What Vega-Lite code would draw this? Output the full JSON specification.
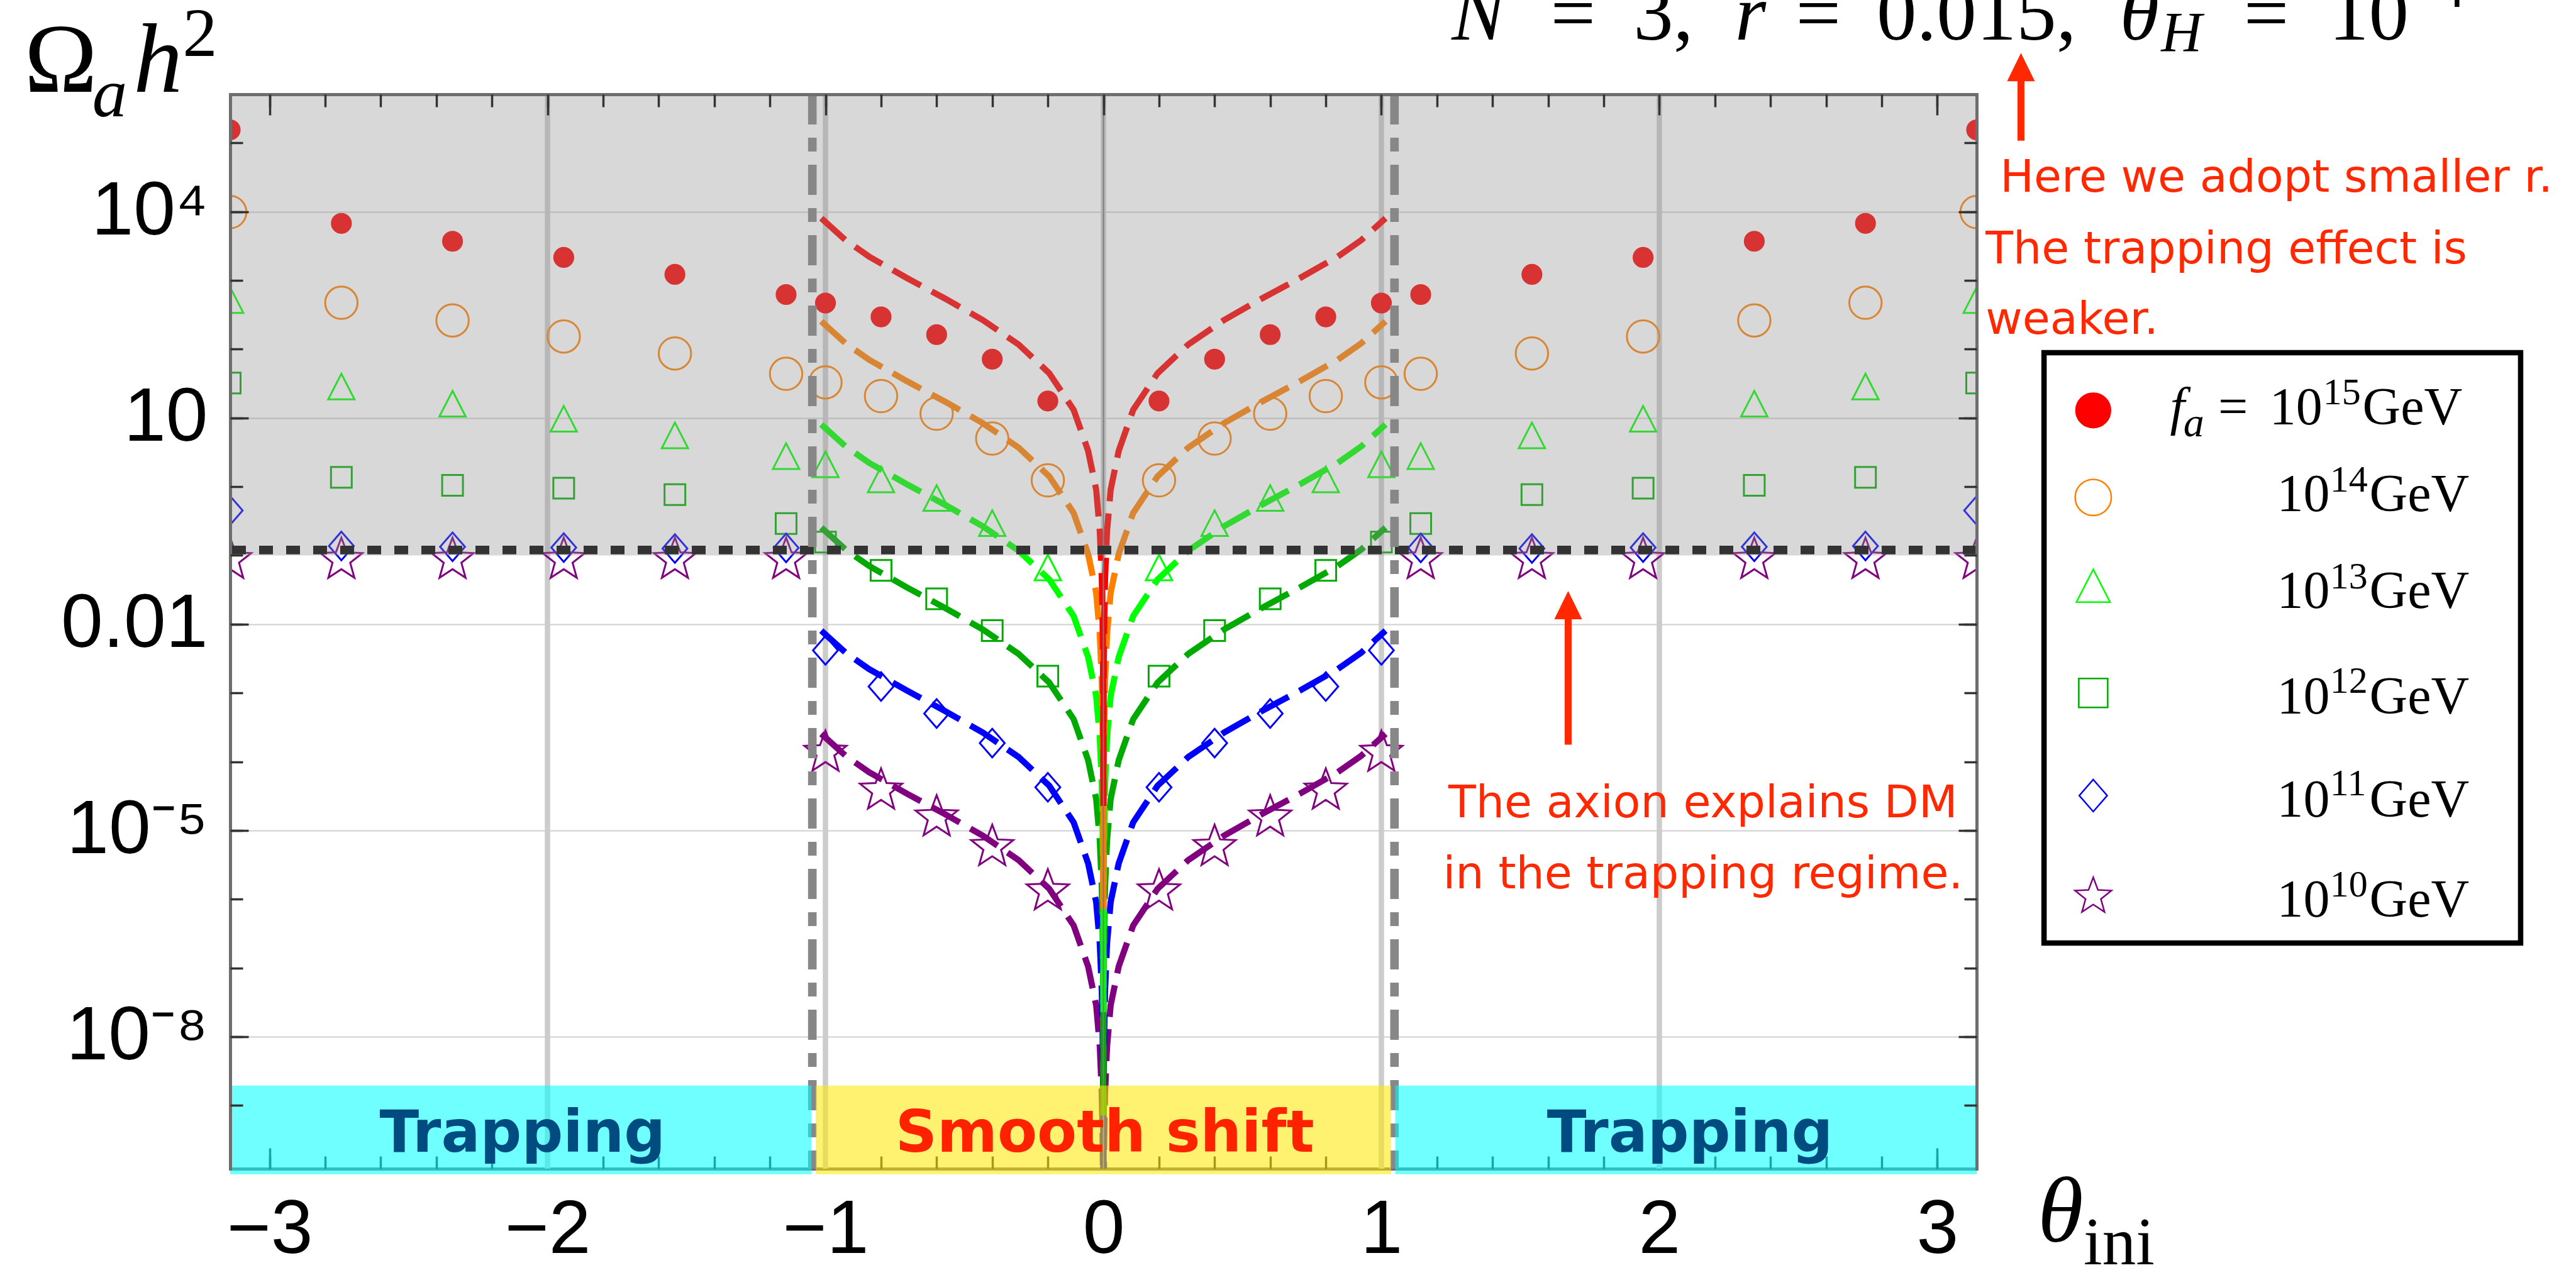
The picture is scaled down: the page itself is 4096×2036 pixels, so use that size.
{
"$schema": "https://vega.github.io/schema/vega-lite/v6.json",
"width": 2777, "height": 1709,
"autosize": {"type": "none"},
"padding": {"left": 366, "top": 150, "right": 953, "bottom": 177},
"background": "#ffffff",
"config": {
  "view": {"stroke": null},
  "axis": {"grid": false, "labels": false, "domain": false, "ticks": true, "tickColor": "#333333", "tickWidth": 3.5, "domainColor": "#6e6e6e", "domainWidth": 5, "domainCap": "square", "labelFont": "Liberation Sans", "labelFontSize": 120, "labelColor": "#000000", "labelOverlap": false, "labelFlush": false, "labelBound": false, "labelLimit": 2000}
},
"datasets": {
"pts": [
{"th":-3.14159,"om":154900,"fa":"15"},{"th":-2.74159,"om":6761,"fa":"15"},{"th":-2.34159,"om":3715,"fa":"15"},{"th":-1.94159,"om":2163,"fa":"15"},{"th":-1.54159,"om":1225,"fa":"15"},{"th":-1.14159,"om":623.7,"fa":"15"},
{"th":-1,"om":468.8,"fa":"15"},{"th":-0.8,"om":295.1,"fa":"15"},{"th":-0.6,"om":162.9,"fa":"15"},{"th":-0.4,"om":71.61,"fa":"15"},{"th":-0.2,"om":17.62,"fa":"15"},
{"th":0.2,"om":17.62,"fa":"15"},{"th":0.4,"om":71.61,"fa":"15"},{"th":0.6,"om":162.9,"fa":"15"},{"th":0.8,"om":295.1,"fa":"15"},{"th":1,"om":468.8,"fa":"15"},
{"th":1.14159,"om":623.7,"fa":"15"},{"th":1.54159,"om":1225,"fa":"15"},{"th":1.94159,"om":2163,"fa":"15"},{"th":2.34159,"om":3715,"fa":"15"},{"th":2.74159,"om":6761,"fa":"15"},{"th":3.14159,"om":154900,"fa":"15"},

{"th":-3.14159,"om":9886,"fa":"14"},{"th":-2.74159,"om":473.2,"fa":"14"},{"th":-2.34159,"om":261.8,"fa":"14"},{"th":-1.94159,"om":153.1,"fa":"14"},{"th":-1.54159,"om":86.7,"fa":"14"},{"th":-1.14159,"om":43.85,"fa":"14"},
{"th":-1,"om":32.96,"fa":"14"},{"th":-0.8,"om":20.8,"fa":"14"},{"th":-0.6,"om":11.53,"fa":"14"},{"th":-0.4,"om":5.012,"fa":"14"},{"th":-0.2,"om":1.236,"fa":"14"},
{"th":0.2,"om":1.236,"fa":"14"},{"th":0.4,"om":5.012,"fa":"14"},{"th":0.6,"om":11.53,"fa":"14"},{"th":0.8,"om":20.8,"fa":"14"},{"th":1,"om":32.96,"fa":"14"},
{"th":1.14159,"om":43.85,"fa":"14"},{"th":1.54159,"om":86.7,"fa":"14"},{"th":1.94159,"om":153.1,"fa":"14"},{"th":2.34159,"om":261.8,"fa":"14"},{"th":2.74159,"om":473.2,"fa":"14"},{"th":3.14159,"om":9886,"fa":"14"},

{"th":-3.14159,"om":512.9,"fa":"13"},{"th":-2.74159,"om":28.31,"fa":"13"},{"th":-2.34159,"om":15.92,"fa":"13"},{"th":-1.94159,"om":9.594,"fa":"13"},{"th":-1.54159,"om":5.508,"fa":"13"},{"th":-1.14159,"om":2.754,"fa":"13"},
{"th":-1,"om":2.089,"fa":"13"},{"th":-0.8,"om":1.259,"fa":"13"},{"th":-0.6,"om":0.6761,"fa":"13"},{"th":-0.4,"om":0.2917,"fa":"13"},{"th":-0.2,"om":0.06607,"fa":"13"},
{"th":0.2,"om":0.06607,"fa":"13"},{"th":0.4,"om":0.2917,"fa":"13"},{"th":0.6,"om":0.6761,"fa":"13"},{"th":0.8,"om":1.259,"fa":"13"},{"th":1,"om":2.089,"fa":"13"},
{"th":1.14159,"om":2.754,"fa":"13"},{"th":1.54159,"om":5.508,"fa":"13"},{"th":1.94159,"om":9.594,"fa":"13"},{"th":2.34159,"om":15.92,"fa":"13"},{"th":2.74159,"om":28.31,"fa":"13"},{"th":3.14159,"om":512.9,"fa":"13"},

{"th":-3.14159,"om":32.28,"fa":"12"},{"th":-2.74159,"om":1.371,"fa":"12"},{"th":-2.34159,"om":1.047,"fa":"12"},{"th":-1.94159,"om":0.9506,"fa":"12"},{"th":-1.54159,"om":0.7656,"fa":"12"},{"th":-1.14159,"om":0.2911,"fa":"12"},
{"th":-1,"om":0.1567,"fa":"12"},{"th":-0.8,"om":0.06053,"fa":"12"},{"th":-0.6,"om":0.02339,"fa":"12"},{"th":-0.4,"om":0.008091,"fa":"12"},{"th":-0.2,"om":0.00175,"fa":"12"},
{"th":0.2,"om":0.00175,"fa":"12"},{"th":0.4,"om":0.008091,"fa":"12"},{"th":0.6,"om":0.02339,"fa":"12"},{"th":0.8,"om":0.06053,"fa":"12"},{"th":1,"om":0.1567,"fa":"12"},
{"th":1.14159,"om":0.2911,"fa":"12"},{"th":1.54159,"om":0.7656,"fa":"12"},{"th":1.94159,"om":0.9506,"fa":"12"},{"th":2.34159,"om":1.047,"fa":"12"},{"th":2.74159,"om":1.371,"fa":"12"},{"th":3.14159,"om":32.28,"fa":"12"},

{"th":-3.14159,"om":0.4498,"fa":"11"},{"th":-2.74159,"om":0.1374,"fa":"11"},{"th":-2.34159,"om":0.1334,"fa":"11"},{"th":-1.94159,"om":0.1303,"fa":"11"},{"th":-1.54159,"om":0.1259,"fa":"11"},{"th":-1.14159,"om":0.1288,"fa":"11"},
{"th":-1,"om":0.004169,"fa":"11"},{"th":-0.8,"om":0.001239,"fa":"11"},{"th":-0.6,"om":0.0005023,"fa":"11"},{"th":-0.4,"om":0.0001862,"fa":"11"},{"th":-0.2,"om":0.00004246,"fa":"11"},
{"th":0.2,"om":0.00004246,"fa":"11"},{"th":0.4,"om":0.0001862,"fa":"11"},{"th":0.6,"om":0.0005023,"fa":"11"},{"th":0.8,"om":0.001239,"fa":"11"},{"th":1,"om":0.004169,"fa":"11"},
{"th":1.14159,"om":0.1288,"fa":"11"},{"th":1.54159,"om":0.1259,"fa":"11"},{"th":1.94159,"om":0.1303,"fa":"11"},{"th":2.34159,"om":0.1334,"fa":"11"},{"th":2.74159,"om":0.1374,"fa":"11"},{"th":3.14159,"om":0.4498,"fa":"11"},

{"th":-3.14159,"om":0.0861,"fa":"10"},{"th":-2.74159,"om":0.0861,"fa":"10"},{"th":-2.34159,"om":0.0861,"fa":"10"},{"th":-1.94159,"om":0.0861,"fa":"10"},{"th":-1.54159,"om":0.0861,"fa":"10"},{"th":-1.14159,"om":0.0861,"fa":"10"},
{"th":-1,"om":0.0001349,"fa":"10"},{"th":-0.8,"om":0.00003802,"fa":"10"},{"th":-0.6,"om":0.00001549,"fa":"10"},{"th":-0.4,"om":0.000005754,"fa":"10"},{"th":-0.2,"om":0.000001303,"fa":"10"},
{"th":0.2,"om":0.000001303,"fa":"10"},{"th":0.4,"om":0.000005754,"fa":"10"},{"th":0.6,"om":0.00001549,"fa":"10"},{"th":0.8,"om":0.00003802,"fa":"10"},{"th":1,"om":0.0001349,"fa":"10"},
{"th":1.14159,"om":0.0861,"fa":"10"},{"th":1.54159,"om":0.0861,"fa":"10"},{"th":1.94159,"om":0.0861,"fa":"10"},{"th":2.34159,"om":0.0861,"fa":"10"},{"th":2.74159,"om":0.0861,"fa":"10"},{"th":3.14159,"om":0.0861,"fa":"10"}
],
"crv": [
{"th":-1.015,"om":2.541e-4,"fa":"10"},{"th":-0.927,"om":1.213e-4,"fa":"10"},{"th":-0.843,"om":7.03e-5,"fa":"10"},{"th":-0.7065,"om":3.418e-5,"fa":"10"},{"th":-0.57,"om":1.726e-5,"fa":"10"},{"th":-0.434,"om":8.396e-6,"fa":"10"},{"th":-0.305,"om":3.697e-6,"fa":"10"},{"th":-0.195,"om":1.416e-6,"fa":"10"},{"th":-0.107,"om":4.139e-7,"fa":"10"},{"th":-0.055,"om":1.05e-7,"fa":"10"},{"th":-0.026,"om":2.858e-8,"fa":"10"},{"th":-0.013,"om":7.079e-9,"fa":"10"},{"th":-0.006,"om":1.514e-9,"fa":"10"},{"th":-0.003,"om":3.802e-10,"fa":"10"},{"th":-0.0015,"om":9.55e-11,"fa":"10"},{"th":-0.0006,"om":1.514e-11,"fa":"10"},{"th":-0.00025,"om":2.63e-12,"fa":"10"},{"th":-0.00013,"om":7.943e-13,"fa":"10"},
{"th":0.00013,"om":7.943e-13,"fa":"10"},{"th":0.00025,"om":2.63e-12,"fa":"10"},{"th":0.0006,"om":1.514e-11,"fa":"10"},{"th":0.0015,"om":9.55e-11,"fa":"10"},{"th":0.003,"om":3.802e-10,"fa":"10"},{"th":0.006,"om":1.514e-9,"fa":"10"},{"th":0.013,"om":7.079e-9,"fa":"10"},{"th":0.026,"om":2.858e-8,"fa":"10"},{"th":0.055,"om":1.05e-7,"fa":"10"},{"th":0.107,"om":4.139e-7,"fa":"10"},{"th":0.195,"om":1.416e-6,"fa":"10"},{"th":0.305,"om":3.697e-6,"fa":"10"},{"th":0.434,"om":8.396e-6,"fa":"10"},{"th":0.57,"om":1.726e-5,"fa":"10"},{"th":0.7065,"om":3.418e-5,"fa":"10"},{"th":0.843,"om":7.03e-5,"fa":"10"},{"th":0.927,"om":1.213e-4,"fa":"10"},{"th":1.015,"om":2.541e-4,"fa":"10"},

{"th":-1.015,"om":8.035e-3,"fa":"11"},{"th":-0.927,"om":3.837e-3,"fa":"11"},{"th":-0.843,"om":2.223e-3,"fa":"11"},{"th":-0.7065,"om":1.081e-3,"fa":"11"},{"th":-0.57,"om":5.458e-4,"fa":"11"},{"th":-0.434,"om":2.655e-4,"fa":"11"},{"th":-0.305,"om":1.169e-4,"fa":"11"},{"th":-0.195,"om":4.477e-5,"fa":"11"},{"th":-0.107,"om":1.309e-5,"fa":"11"},{"th":-0.055,"om":3.319e-6,"fa":"11"},{"th":-0.026,"om":9.036e-7,"fa":"11"},{"th":-0.013,"om":2.239e-7,"fa":"11"},{"th":-0.006,"om":4.786e-8,"fa":"11"},{"th":-0.003,"om":1.202e-8,"fa":"11"},{"th":-0.0015,"om":3.02e-9,"fa":"11"},{"th":-0.0006,"om":4.786e-10,"fa":"11"},{"th":-0.00025,"om":8.318e-11,"fa":"11"},{"th":-0.00013,"om":2.512e-11,"fa":"11"},
{"th":0.00013,"om":2.512e-11,"fa":"11"},{"th":0.00025,"om":8.318e-11,"fa":"11"},{"th":0.0006,"om":4.786e-10,"fa":"11"},{"th":0.0015,"om":3.02e-9,"fa":"11"},{"th":0.003,"om":1.202e-8,"fa":"11"},{"th":0.006,"om":4.786e-8,"fa":"11"},{"th":0.013,"om":2.239e-7,"fa":"11"},{"th":0.026,"om":9.036e-7,"fa":"11"},{"th":0.055,"om":3.319e-6,"fa":"11"},{"th":0.107,"om":1.309e-5,"fa":"11"},{"th":0.195,"om":4.477e-5,"fa":"11"},{"th":0.305,"om":1.169e-4,"fa":"11"},{"th":0.434,"om":2.655e-4,"fa":"11"},{"th":0.57,"om":5.458e-4,"fa":"11"},{"th":0.7065,"om":1.081e-3,"fa":"11"},{"th":0.843,"om":2.223e-3,"fa":"11"},{"th":0.927,"om":3.837e-3,"fa":"11"},{"th":1.015,"om":8.035e-3,"fa":"11"},

{"th":-1.015,"om":0.2541,"fa":"12"},{"th":-0.927,"om":0.1213,"fa":"12"},{"th":-0.843,"om":0.0703,"fa":"12"},{"th":-0.7065,"om":0.03418,"fa":"12"},{"th":-0.57,"om":0.01726,"fa":"12"},{"th":-0.434,"om":0.008396,"fa":"12"},{"th":-0.305,"om":0.003697,"fa":"12"},{"th":-0.195,"om":0.001416,"fa":"12"},{"th":-0.107,"om":4.139e-4,"fa":"12"},{"th":-0.055,"om":1.05e-4,"fa":"12"},{"th":-0.026,"om":2.858e-5,"fa":"12"},{"th":-0.013,"om":7.079e-6,"fa":"12"},{"th":-0.006,"om":1.514e-6,"fa":"12"},{"th":-0.003,"om":3.802e-7,"fa":"12"},{"th":-0.0015,"om":9.55e-8,"fa":"12"},{"th":-0.0006,"om":1.514e-8,"fa":"12"},{"th":-0.00025,"om":2.63e-9,"fa":"12"},{"th":-0.00013,"om":7.943e-10,"fa":"12"},
{"th":0.00013,"om":7.943e-10,"fa":"12"},{"th":0.00025,"om":2.63e-9,"fa":"12"},{"th":0.0006,"om":1.514e-8,"fa":"12"},{"th":0.0015,"om":9.55e-8,"fa":"12"},{"th":0.003,"om":3.802e-7,"fa":"12"},{"th":0.006,"om":1.514e-6,"fa":"12"},{"th":0.013,"om":7.079e-6,"fa":"12"},{"th":0.026,"om":2.858e-5,"fa":"12"},{"th":0.055,"om":1.05e-4,"fa":"12"},{"th":0.107,"om":4.139e-4,"fa":"12"},{"th":0.195,"om":0.001416,"fa":"12"},{"th":0.305,"om":0.003697,"fa":"12"},{"th":0.434,"om":0.008396,"fa":"12"},{"th":0.57,"om":0.01726,"fa":"12"},{"th":0.7065,"om":0.03418,"fa":"12"},{"th":0.843,"om":0.0703,"fa":"12"},{"th":0.927,"om":0.1213,"fa":"12"},{"th":1.015,"om":0.2541,"fa":"12"},

{"th":-1.015,"om":8.035,"fa":"13"},{"th":-0.927,"om":3.837,"fa":"13"},{"th":-0.843,"om":2.223,"fa":"13"},{"th":-0.7065,"om":1.081,"fa":"13"},{"th":-0.57,"om":0.5458,"fa":"13"},{"th":-0.434,"om":0.2655,"fa":"13"},{"th":-0.305,"om":0.1169,"fa":"13"},{"th":-0.195,"om":0.04477,"fa":"13"},{"th":-0.107,"om":0.01309,"fa":"13"},{"th":-0.055,"om":0.003319,"fa":"13"},{"th":-0.026,"om":9.036e-4,"fa":"13"},{"th":-0.013,"om":2.239e-4,"fa":"13"},{"th":-0.006,"om":4.786e-5,"fa":"13"},{"th":-0.003,"om":1.202e-5,"fa":"13"},{"th":-0.0015,"om":3.02e-6,"fa":"13"},{"th":-0.0006,"om":4.786e-7,"fa":"13"},{"th":-0.00025,"om":8.318e-8,"fa":"13"},{"th":-0.00013,"om":2.512e-8,"fa":"13"},
{"th":0.00013,"om":2.512e-8,"fa":"13"},{"th":0.00025,"om":8.318e-8,"fa":"13"},{"th":0.0006,"om":4.786e-7,"fa":"13"},{"th":0.0015,"om":3.02e-6,"fa":"13"},{"th":0.003,"om":1.202e-5,"fa":"13"},{"th":0.006,"om":4.786e-5,"fa":"13"},{"th":0.013,"om":2.239e-4,"fa":"13"},{"th":0.026,"om":9.036e-4,"fa":"13"},{"th":0.055,"om":0.003319,"fa":"13"},{"th":0.107,"om":0.01309,"fa":"13"},{"th":0.195,"om":0.04477,"fa":"13"},{"th":0.305,"om":0.1169,"fa":"13"},{"th":0.434,"om":0.2655,"fa":"13"},{"th":0.57,"om":0.5458,"fa":"13"},{"th":0.7065,"om":1.081,"fa":"13"},{"th":0.843,"om":2.223,"fa":"13"},{"th":0.927,"om":3.837,"fa":"13"},{"th":1.015,"om":8.035,"fa":"13"},

{"th":-1.015,"om":254.1,"fa":"14"},{"th":-0.927,"om":121.3,"fa":"14"},{"th":-0.843,"om":70.3,"fa":"14"},{"th":-0.7065,"om":34.18,"fa":"14"},{"th":-0.57,"om":17.26,"fa":"14"},{"th":-0.434,"om":8.396,"fa":"14"},{"th":-0.305,"om":3.697,"fa":"14"},{"th":-0.195,"om":1.416,"fa":"14"},{"th":-0.107,"om":0.4139,"fa":"14"},{"th":-0.055,"om":0.105,"fa":"14"},{"th":-0.026,"om":0.02858,"fa":"14"},{"th":-0.013,"om":0.007079,"fa":"14"},{"th":-0.006,"om":0.001514,"fa":"14"},{"th":-0.003,"om":3.802e-4,"fa":"14"},{"th":-0.0015,"om":9.55e-5,"fa":"14"},{"th":-0.0006,"om":1.514e-5,"fa":"14"},{"th":-0.00025,"om":2.63e-6,"fa":"14"},{"th":-0.00013,"om":7.943e-7,"fa":"14"},
{"th":0.00013,"om":7.943e-7,"fa":"14"},{"th":0.00025,"om":2.63e-6,"fa":"14"},{"th":0.0006,"om":1.514e-5,"fa":"14"},{"th":0.0015,"om":9.55e-5,"fa":"14"},{"th":0.003,"om":3.802e-4,"fa":"14"},{"th":0.006,"om":0.001514,"fa":"14"},{"th":0.013,"om":0.007079,"fa":"14"},{"th":0.026,"om":0.02858,"fa":"14"},{"th":0.055,"om":0.105,"fa":"14"},{"th":0.107,"om":0.4139,"fa":"14"},{"th":0.195,"om":1.416,"fa":"14"},{"th":0.305,"om":3.697,"fa":"14"},{"th":0.434,"om":8.396,"fa":"14"},{"th":0.57,"om":17.26,"fa":"14"},{"th":0.7065,"om":34.18,"fa":"14"},{"th":0.843,"om":70.3,"fa":"14"},{"th":0.927,"om":121.3,"fa":"14"},{"th":1.015,"om":254.1,"fa":"14"},

{"th":-1.015,"om":8035,"fa":"15"},{"th":-0.927,"om":3837,"fa":"15"},{"th":-0.843,"om":2223,"fa":"15"},{"th":-0.7065,"om":1081,"fa":"15"},{"th":-0.57,"om":545.8,"fa":"15"},{"th":-0.434,"om":265.5,"fa":"15"},{"th":-0.305,"om":116.9,"fa":"15"},{"th":-0.195,"om":44.77,"fa":"15"},{"th":-0.107,"om":13.09,"fa":"15"},{"th":-0.055,"om":3.319,"fa":"15"},{"th":-0.026,"om":0.9036,"fa":"15"},{"th":-0.013,"om":0.2239,"fa":"15"},{"th":-0.006,"om":0.04786,"fa":"15"},{"th":-0.003,"om":0.01202,"fa":"15"},{"th":-0.0015,"om":0.00302,"fa":"15"},{"th":-0.0006,"om":4.786e-4,"fa":"15"},{"th":-0.00025,"om":8.318e-5,"fa":"15"},{"th":-0.00013,"om":2.512e-5,"fa":"15"},
{"th":0.00013,"om":2.512e-5,"fa":"15"},{"th":0.00025,"om":8.318e-5,"fa":"15"},{"th":0.0006,"om":4.786e-4,"fa":"15"},{"th":0.0015,"om":0.00302,"fa":"15"},{"th":0.003,"om":0.01202,"fa":"15"},{"th":0.006,"om":0.04786,"fa":"15"},{"th":0.013,"om":0.2239,"fa":"15"},{"th":0.026,"om":0.9036,"fa":"15"},{"th":0.055,"om":3.319,"fa":"15"},{"th":0.107,"om":13.09,"fa":"15"},{"th":0.195,"om":44.77,"fa":"15"},{"th":0.305,"om":116.9,"fa":"15"},{"th":0.434,"om":265.5,"fa":"15"},{"th":0.57,"om":545.8,"fa":"15"},{"th":0.7065,"om":1081,"fa":"15"},{"th":0.843,"om":2223,"fa":"15"},{"th":0.927,"om":3837,"fa":"15"},{"th":1.015,"om":8035,"fa":"15"}
]
},
"resolve": {"axis": {"x": "independent", "y": "independent"}, "scale": {"size": "independent"}},
"layer": [
{"data": {"values": [{"th":-2},{"th":-1},{"th":0},{"th":1},{"th":2}]},
 "mark": {"type": "rule", "color": "#cccccc", "strokeWidth": 8.5},
 "encoding": {"x": {"field": "th", "type": "quantitative", "scale": {"domain": [-3.14159265, 3.14159265], "nice": false, "zero": false}, "axis": null}}},

{"data": {"name": "crv"},
 "mark": {"type": "line", "clip": true, "strokeWidth": 9.8, "strokeDash": [51, 19.5], "strokeCap": "butt"},
 "encoding": {
  "x": {"field": "th", "type": "quantitative", "scale": {"domain": [-3.14159265, 3.14159265], "nice": false, "zero": false},
        "axis": {"orient": "bottom", "values": [-3,-2,-1,0,1,2,3], "labels": true, "ticks": false, "domain": true, "labelPadding": 38, "title": null, "zindex": 0}},
  "y": {"field": "om", "type": "quantitative", "scale": {"type": "log", "domain": [1.2e-10, 510000], "nice": false},
        "axis": {"orient": "left", "values": [1e-8, 1e-5, 0.01, 10, 10000], "labels": true, "ticks": false, "grid": true, "gridColor": "#d0d0d0", "gridWidth": 2, "labelPadding": 36, "labelLimit": 2000, "title": null, "zindex": 0,
                 "labelExpr": "datum.value > 1000 ? '10\u2074' : datum.value > 1 ? '10' : datum.value > 0.001 ? '0.01' : datum.value > 1e-6 ? '10\u207b\u2075' : '10\u207b\u2078'"}},
  "stroke": {"field": "fa", "type": "nominal", "scale": {"domain": ["15","14","13","12","11","10"], "range": ["#ff0000","#ff8000","#00ff00","#00aa00","#0000ff","#800080"]}, "legend": null}
 }},

{"data": {"name": "pts"},
 "mark": {"type": "point", "clip": true, "strokeWidth": 3, "opacity": 1, "fillOpacity": 1, "strokeOpacity": 1},
 "encoding": {
  "x": {"field": "th", "type": "quantitative", "scale": {"domain": [-3.14159265, 3.14159265], "nice": false, "zero": false},
        "axis": {"orient": "bottom", "values": [-3,-2,-1,0,1,2,3], "tickSize": -33, "title": null, "zindex": 0}},
  "y": {"field": "om", "type": "quantitative", "scale": {"type": "log", "domain": [1.2e-10, 510000], "nice": false},
        "axis": {"orient": "left", "values": [1e-8, 1e-5, 0.01, 10, 10000], "tickSize": -29, "domain": true, "title": null, "zindex": 1}},
  "shape": {"field": "fa", "type": "nominal", "scale": {"domain": ["15","14","13","12","11","10"], "range": ["circle","circle","M0,-1L1,0.95L-1,0.95Z","square","M0,-1L0.87,0L0,1L-0.87,0Z","M0,-1L0.247,-0.34L0.951,-0.309L0.399,0.13L0.588,0.809L0,0.42L-0.588,0.809L-0.399,0.13L-0.951,-0.309L-0.247,-0.34Z"]}, "legend": null},
  "stroke": {"field": "fa", "type": "nominal", "scale": {"domain": ["15","14","13","12","11","10"], "range": ["#ff0000","#ff8000","#00ff00","#00aa00","#0000ff","#800080"]}, "legend": null},
  "fill": {"field": "fa", "type": "nominal", "scale": {"domain": ["15","14","13","12","11","10"], "range": ["#ff0000","transparent","transparent","transparent","transparent","transparent"]}, "legend": null},
  "size": {"field": "fa", "type": "nominal", "scale": {"type": "ordinal", "domain": ["15","14","13","12","11","10"], "range": [912, 2650, 1750, 1089, 2070, 4970]}, "legend": null}
 }},

{"data": {"values": [{"th":0}]},
 "mark": {"type": "rule", "color": "#7a7a7a", "strokeWidth": 2.2},
 "encoding": {"x": {"field": "th", "type": "quantitative", "scale": {"domain": [-3.14159265, 3.14159265], "nice": false, "zero": false}, "axis": null}}},

{"data": {"values": [{"a": -3.14159265, "b": 3.14159265, "lo": 0.1, "hi": 510000}]},
 "mark": {"type": "rect", "color": "#909090", "opacity": 0.353},
 "encoding": {
  "x": {"field": "a", "type": "quantitative", "scale": {"domain": [-3.14159265, 3.14159265], "nice": false, "zero": false},
        "axis": {"orient": "bottom", "values": [-3,-2.8,-2.6,-2.4,-2.2,-2,-1.8,-1.6,-1.4,-1.2,-1,-0.8,-0.6,-0.4,-0.2,0,0.2,0.4,0.6,0.8,1,1.2,1.4,1.6,1.8,2,2.2,2.4,2.6,2.8,3], "tickSize": -20, "title": null, "zindex": 0}},
  "x2": {"field": "b"},
  "y": {"field": "lo", "type": "quantitative", "scale": {"type": "log", "domain": [1.2e-10, 510000], "nice": false},
        "axis": {"orient": "left", "values": [1e-9,1e-8,1e-7,1e-6,1e-5,1e-4,0.001,0.01,0.1,1,10,100,1000,10000,100000], "tickSize": -20, "title": null, "zindex": 1}},
  "y2": {"field": "hi"}
 }},

{"data": {"values": [{"om": 0.12}]},
 "mark": {"type": "rule", "color": "#333333", "strokeWidth": 13.6, "strokeDash": [22, 21], "strokeCap": "butt"},
 "encoding": {"y": {"field": "om", "type": "quantitative", "scale": {"type": "log", "domain": [1.2e-10, 510000], "nice": false}, "axis": null}}},

{"data": {"values": [{"th": -1.0472}, {"th": 1.0472}]},
 "mark": {"type": "rule", "color": "#878787", "strokeWidth": 13.6, "strokeDash": [48, 21, 22, 21], "strokeCap": "butt"},
 "encoding": {"x": {"field": "th", "type": "quantitative", "scale": {"domain": [-3.14159265, 3.14159265], "nice": false, "zero": false}, "axis": null}}},

{"data": {"values": [{"a": -3.14159265, "b": -1.05, "lo": 1e-10, "hi": 1.94e-9, "k": "trap"}, {"a": -1.035, "b": 1.035, "lo": 1e-10, "hi": 1.94e-9, "k": "smooth"}, {"a": 1.05, "b": 3.14159265, "lo": 1e-10, "hi": 1.94e-9, "k": "trap"}]},
 "mark": {"type": "rect", "opacity": 0.56},
 "encoding": {
  "x": {"field": "a", "type": "quantitative", "scale": {"domain": [-3.14159265, 3.14159265], "nice": false, "zero": false},
        "axis": {"orient": "top", "values": [-3,-2,-1,0,1,2,3], "tickSize": -33, "domain": true, "title": null, "zindex": 1}},
  "x2": {"field": "b"},
  "y": {"field": "lo", "type": "quantitative", "scale": {"type": "log", "domain": [1.2e-10, 510000], "nice": false},
        "axis": {"orient": "right", "values": [1e-8, 1e-5, 0.01, 10, 10000], "tickSize": -29, "domain": true, "title": null, "zindex": 1}},
  "y2": {"field": "hi"},
  "color": {"field": "k", "type": "nominal", "scale": {"domain": ["trap", "smooth"], "range": ["#00ffff", "#ffe800"]}, "legend": null}
 }},

{"data": {"values": [{"x": -2.09, "y": 2.123e-10, "t": "Trapping"}, {"x": 2.11, "y": 2.123e-10, "t": "Trapping"}]},
 "mark": {"type": "text", "font": "DejaVu Sans", "fontWeight": "bold", "fontSize": 92, "color": "#004c80", "align": "center", "baseline": "alphabetic"},
 "encoding": {
  "x": {"field": "x", "type": "quantitative", "scale": {"domain": [-3.14159265, 3.14159265], "nice": false, "zero": false},
        "axis": {"orient": "top", "values": [-3,-2.8,-2.6,-2.4,-2.2,-2,-1.8,-1.6,-1.4,-1.2,-1,-0.8,-0.6,-0.4,-0.2,0,0.2,0.4,0.6,0.8,1,1.2,1.4,1.6,1.8,2,2.2,2.4,2.6,2.8,3], "tickSize": -20, "title": null, "zindex": 1}},
  "y": {"field": "y", "type": "quantitative", "scale": {"type": "log", "domain": [1.2e-10, 510000], "nice": false},
        "axis": {"orient": "right", "values": [1e-9,1e-8,1e-7,1e-6,1e-5,1e-4,0.001,0.01,0.1,1,10,100,1000,10000,100000], "tickSize": -20, "title": null, "zindex": 1}},
  "text": {"field": "t"}
 }},

{"data": {"values": [{"x": 0.005, "y": 2.123e-10, "t": "Smooth shift"}]},
 "mark": {"type": "text", "font": "DejaVu Sans", "fontWeight": "bold", "fontSize": 92, "color": "#ff2200", "align": "center", "baseline": "alphabetic"},
 "encoding": {
  "x": {"field": "x", "type": "quantitative", "scale": {"domain": [-3.14159265, 3.14159265], "nice": false, "zero": false}, "axis": null},
  "y": {"field": "y", "type": "quantitative", "scale": {"type": "log", "domain": [1.2e-10, 510000], "nice": false}, "axis": null},
  "text": {"field": "t"}
 }},

{"data": {"values": [{"x": 3.301, "y": 108000, "y2": 1000000}, {"x": 1.672, "y": 0.0001766, "y2": 0.01585}]},
 "mark": {"type": "rule", "color": "#ff2800", "strokeWidth": 11},
 "encoding": {
  "x": {"field": "x", "type": "quantitative", "scale": {"domain": [-3.14159265, 3.14159265], "nice": false, "zero": false}, "axis": null},
  "y": {"field": "y", "type": "quantitative", "scale": {"type": "log", "domain": [1.2e-10, 510000], "nice": false}, "axis": null},
  "y2": {"field": "y2"}
 }},

{"data": {"values": [{"x": 3.301, "y": 1265000}, {"x": 1.672, "y": 0.01892}]},
 "mark": {"type": "point", "filled": true, "color": "#ff2800", "opacity": 1, "shape": "M0,-1L0.98,1L-0.98,1Z", "size": 2025, "strokeWidth": 0},
 "encoding": {
  "x": {"field": "x", "type": "quantitative", "scale": {"domain": [-3.14159265, 3.14159265], "nice": false, "zero": false}, "axis": null},
  "y": {"field": "y", "type": "quantitative", "scale": {"type": "log", "domain": [1.2e-10, 510000], "nice": false}, "axis": null}
 }},

{"data": {"values": [{"x": 3.226, "y": 19364, "t": "Here we adopt smaller r."}, {"x": 3.174, "y": 1762, "t": "The trapping effect is"}, {"x": 3.174, "y": 166.3, "t": "weaker."}]},
 "mark": {"type": "text", "font": "DejaVu Sans", "fontSize": 71.5, "color": "#ff2800", "align": "left", "baseline": "alphabetic"},
 "encoding": {
  "x": {"field": "x", "type": "quantitative", "scale": {"domain": [-3.14159265, 3.14159265], "nice": false, "zero": false}, "axis": null},
  "y": {"field": "y", "type": "quantitative", "scale": {"type": "log", "domain": [1.2e-10, 510000], "nice": false}, "axis": null},
  "text": {"field": "t"}
 }},

{"data": {"values": [{"x": 2.157, "y": 1.545e-5, "t": "The axion explains DM"}, {"x": 2.157, "y": 1.442e-6, "t": "in the trapping regime."}]},
 "mark": {"type": "text", "font": "DejaVu Sans", "fontSize": 71.5, "color": "#ff2800", "align": "center", "baseline": "alphabetic"},
 "encoding": {
  "x": {"field": "x", "type": "quantitative", "scale": {"domain": [-3.14159265, 3.14159265], "nice": false, "zero": false}, "axis": null},
  "y": {"field": "y", "type": "quantitative", "scale": {"type": "log", "domain": [1.2e-10, 510000], "nice": false}, "axis": null},
  "text": {"field": "t"}
 }},

{"data": {"values": [{"a": 3.384, "b": 5.0986, "lo": 2.307e-7, "hi": 88.9}]},
 "mark": {"type": "rect", "fill": "#ffffff", "stroke": "#000000", "strokeWidth": 8.5},
 "encoding": {
  "x": {"field": "a", "type": "quantitative", "scale": {"domain": [-3.14159265, 3.14159265], "nice": false, "zero": false}, "axis": null},
  "x2": {"field": "b"},
  "y": {"field": "lo", "type": "quantitative", "scale": {"type": "log", "domain": [1.2e-10, 510000], "nice": false}, "axis": null},
  "y2": {"field": "hi"}
 }},

{"data": {"values": [{"x": 3.561, "y": 12.853, "fa": "15"}, {"x": 3.561, "y": 0.6966, "fa": "14"}, {"x": 3.561, "y": 0.035727, "fa": "13"}, {"x": 3.561, "y": 0.001, "fa": "12"}, {"x": 3.561, "y": 3.2137e-5, "fa": "11"}, {"x": 3.561, "y": 1.094e-6, "fa": "10"}]},
 "mark": {"type": "point", "strokeWidth": 2.5, "opacity": 1, "fillOpacity": 1, "strokeOpacity": 1},
 "encoding": {
  "x": {"field": "x", "type": "quantitative", "scale": {"domain": [-3.14159265, 3.14159265], "nice": false, "zero": false}, "axis": null},
  "y": {"field": "y", "type": "quantitative", "scale": {"type": "log", "domain": [1.2e-10, 510000], "nice": false}, "axis": null},
  "shape": {"field": "fa", "type": "nominal", "scale": {"domain": ["15","14","13","12","11","10"], "range": ["circle","circle","M0,-1L1,0.95L-1,0.95Z","square","M0,-1L0.87,0L0,1L-0.87,0Z","M0,-1L0.247,-0.34L0.951,-0.309L0.399,0.13L0.588,0.809L0,0.42L-0.588,0.809L-0.399,0.13L-0.951,-0.309L-0.247,-0.34Z"]}, "legend": null},
  "stroke": {"field": "fa", "type": "nominal", "scale": {"domain": ["15","14","13","12","11","10"], "range": ["#ff0000","#ff8000","#00ff00","#00aa00","#0000ff","#800080"]}, "legend": null},
  "fill": {"field": "fa", "type": "nominal", "scale": {"domain": ["15","14","13","12","11","10"], "range": ["#ff0000","transparent","transparent","transparent","transparent","transparent"]}, "legend": null},
  "size": {"field": "fa", "type": "nominal", "scale": {"type": "ordinal", "domain": ["15","14","13","12","11","10"], "range": [3000, 3300, 2860, 2116, 2600, 3720]}, "legend": null}
 }},

{"data": {"values": [{"x": 4.0106, "y": 8.1115, "t": "="}, {"x": 4.1952, "y": 8.1115, "t": "10"}, {"x": 4.5298, "y": 8.1115, "t": "GeV"},
                     {"x": 4.2221, "y": 0.44157, "t": "10"}, {"x": 4.5548, "y": 0.44157, "t": "GeV"},
                     {"x": 4.2221, "y": 0.017218, "t": "10"}, {"x": 4.5548, "y": 0.017218, "t": "GeV"},
                     {"x": 4.2221, "y": 4.9659e-4, "t": "10"}, {"x": 4.5548, "y": 4.9659e-4, "t": "GeV"},
                     {"x": 4.2221, "y": 1.601e-5, "t": "10"}, {"x": 4.5548, "y": 1.601e-5, "t": "GeV"},
                     {"x": 4.2221, "y": 5.5399e-7, "t": "10"}, {"x": 4.5548, "y": 5.5399e-7, "t": "GeV"}]},
 "mark": {"type": "text", "font": "Liberation Serif", "fontSize": 84, "color": "#000000", "align": "left", "baseline": "alphabetic"},
 "encoding": {
  "x": {"field": "x", "type": "quantitative", "scale": {"domain": [-3.14159265, 3.14159265], "nice": false, "zero": false}, "axis": null},
  "y": {"field": "y", "type": "quantitative", "scale": {"type": "log", "domain": [1.2e-10, 510000], "nice": false}, "axis": null},
  "text": {"field": "t"}
 }},

{"data": {"values": [{"x": 4.3875, "y": 15.727, "t": "15"}, {"x": 4.4125, "y": 0.85435, "t": "14"}, {"x": 4.4125, "y": 0.033399, "t": "13"}, {"x": 4.4125, "y": 1.0016e-3, "t": "12"}, {"x": 4.4125, "y": 3.2175e-5, "t": "11"}, {"x": 4.4125, "y": 1.0996e-6, "t": "10"}]},
 "mark": {"type": "text", "font": "Liberation Serif", "fontSize": 60, "color": "#000000", "align": "left", "baseline": "alphabetic"},
 "encoding": {
  "x": {"field": "x", "type": "quantitative", "scale": {"domain": [-3.14159265, 3.14159265], "nice": false, "zero": false}, "axis": null},
  "y": {"field": "y", "type": "quantitative", "scale": {"type": "log", "domain": [1.2e-10, 510000], "nice": false}, "axis": null},
  "text": {"field": "t"}
 }},

{"data": {"values": [{"x": 3.8375, "y": 8.1115, "t": "f"}]},
 "mark": {"type": "text", "font": "Liberation Serif", "fontStyle": "italic", "fontSize": 84, "color": "#000000", "align": "left", "baseline": "alphabetic"},
 "encoding": {
  "x": {"field": "x", "type": "quantitative", "scale": {"domain": [-3.14159265, 3.14159265], "nice": false, "zero": false}, "axis": null},
  "y": {"field": "y", "type": "quantitative", "scale": {"type": "log", "domain": [1.2e-10, 510000], "nice": false}, "axis": null},
  "text": {"field": "t"}
 }},

{"data": {"values": [{"x": 3.8856, "y": 5.433, "t": "a"}]},
 "mark": {"type": "text", "font": "Liberation Serif", "fontStyle": "italic", "fontSize": 66, "color": "#000000", "align": "left", "baseline": "alphabetic"},
 "encoding": {
  "x": {"field": "x", "type": "quantitative", "scale": {"domain": [-3.14159265, 3.14159265], "nice": false, "zero": false}, "axis": null},
  "y": {"field": "y", "type": "quantitative", "scale": {"type": "log", "domain": [1.2e-10, 510000], "nice": false}, "axis": null},
  "text": {"field": "t"}
 }},

{"data": {"values": [{"x": -3.882, "y": 559760, "t": "\u03a9"}]},
 "mark": {"type": "text", "font": "Liberation Serif", "fontSize": 156, "color": "#000000", "align": "left", "baseline": "alphabetic"},
 "encoding": {
  "x": {"field": "x", "type": "quantitative", "scale": {"domain": [-3.14159265, 3.14159265], "nice": false, "zero": false}, "axis": null},
  "y": {"field": "y", "type": "quantitative", "scale": {"type": "log", "domain": [1.2e-10, 510000], "nice": false}, "axis": null},
  "text": {"field": "t"}
 }},

{"data": {"values": [{"x": -3.4894, "y": 559760, "t": "h"}]},
 "mark": {"type": "text", "font": "Liberation Serif", "fontStyle": "italic", "fontSize": 156, "color": "#000000", "align": "left", "baseline": "alphabetic"},
 "encoding": {
  "x": {"field": "x", "type": "quantitative", "scale": {"domain": [-3.14159265, 3.14159265], "nice": false, "zero": false}, "axis": null},
  "y": {"field": "y", "type": "quantitative", "scale": {"type": "log", "domain": [1.2e-10, 510000], "nice": false}, "axis": null},
  "text": {"field": "t"}
 }},

{"data": {"values": [{"x": -3.6375, "y": 246040, "t": "a"}]},
 "mark": {"type": "text", "font": "Liberation Serif", "fontStyle": "italic", "fontSize": 111, "color": "#000000", "align": "left", "baseline": "alphabetic"},
 "encoding": {
  "x": {"field": "x", "type": "quantitative", "scale": {"domain": [-3.14159265, 3.14159265], "nice": false, "zero": false}, "axis": null},
  "y": {"field": "y", "type": "quantitative", "scale": {"type": "log", "domain": [1.2e-10, 510000], "nice": false}, "axis": null},
  "text": {"field": "t"}
 }},

{"data": {"values": [{"x": -3.3125, "y": 1823900, "t": "2"}]},
 "mark": {"type": "text", "font": "Liberation Serif", "fontSize": 110, "color": "#000000", "align": "left", "baseline": "alphabetic"},
 "encoding": {
  "x": {"field": "x", "type": "quantitative", "scale": {"domain": [-3.14159265, 3.14159265], "nice": false, "zero": false}, "axis": null},
  "y": {"field": "y", "type": "quantitative", "scale": {"type": "log", "domain": [1.2e-10, 510000], "nice": false}, "axis": null},
  "text": {"field": "t"}
 }},

{"data": {"values": [{"x": 3.361, "y": 1.047e-11, "t": "\u03b8"}]},
 "mark": {"type": "text", "font": "Liberation Serif", "fontStyle": "italic", "fontSize": 148, "color": "#000000", "align": "left", "baseline": "alphabetic"},
 "encoding": {
  "x": {"field": "x", "type": "quantitative", "scale": {"domain": [-3.14159265, 3.14159265], "nice": false, "zero": false}, "axis": null},
  "y": {"field": "y", "type": "quantitative", "scale": {"type": "log", "domain": [1.2e-10, 510000], "nice": false}, "axis": null},
  "text": {"field": "t"}
 }},

{"data": {"values": [{"x": 3.526, "y": 4.842e-12, "t": "ini"}]},
 "mark": {"type": "text", "font": "Liberation Serif", "fontSize": 107, "color": "#000000", "align": "left", "baseline": "alphabetic"},
 "encoding": {
  "x": {"field": "x", "type": "quantitative", "scale": {"domain": [-3.14159265, 3.14159265], "nice": false, "zero": false}, "axis": null},
  "y": {"field": "y", "type": "quantitative", "scale": {"type": "log", "domain": [1.2e-10, 510000], "nice": false}, "axis": null},
  "text": {"field": "t"}
 }},

{"data": {"values": [{"x": 1.2529, "y": 3191500, "t": "N"}, {"x": 2.272, "y": 3191500, "t": "r"}, {"x": 3.657, "y": 3191500, "t": "\u03b8"}]},
 "mark": {"type": "text", "font": "Liberation Serif", "fontStyle": "italic", "fontSize": 127, "color": "#000000", "align": "left", "baseline": "alphabetic"},
 "encoding": {
  "x": {"field": "x", "type": "quantitative", "scale": {"domain": [-3.14159265, 3.14159265], "nice": false, "zero": false}, "axis": null},
  "y": {"field": "y", "type": "quantitative", "scale": {"type": "log", "domain": [1.2e-10, 510000], "nice": false}, "axis": null},
  "text": {"field": "t"}
 }},

{"data": {"values": [{"x": 1.6087, "y": 3191500, "t": "="}, {"x": 1.9067, "y": 3191500, "t": "3,"}, {"x": 2.4913, "y": 3191500, "t": "="}, {"x": 2.7817, "y": 3191500, "t": "0.015,"}, {"x": 4.1029, "y": 3191500, "t": "="}, {"x": 4.4087, "y": 3191500, "t": "10"}]},
 "mark": {"type": "text", "font": "Liberation Serif", "fontSize": 127, "color": "#000000", "align": "left", "baseline": "alphabetic"},
 "encoding": {
  "x": {"field": "x", "type": "quantitative", "scale": {"domain": [-3.14159265, 3.14159265], "nice": false, "zero": false}, "axis": null},
  "y": {"field": "y", "type": "quantitative", "scale": {"type": "log", "domain": [1.2e-10, 510000], "nice": false}, "axis": null},
  "text": {"field": "t"}
 }},

{"data": {"values": [{"x": 3.805, "y": 2142900, "t": "H"}]},
 "mark": {"type": "text", "font": "Liberation Serif", "fontStyle": "italic", "fontSize": 90, "color": "#000000", "align": "left", "baseline": "alphabetic"},
 "encoding": {
  "x": {"field": "x", "type": "quantitative", "scale": {"domain": [-3.14159265, 3.14159265], "nice": false, "zero": false}, "axis": null},
  "y": {"field": "y", "type": "quantitative", "scale": {"type": "log", "domain": [1.2e-10, 510000], "nice": false}, "axis": null},
  "text": {"field": "t"}
 }},

{"data": {"values": [{"x": 4.683, "y": 9462400, "t": "\u22124"}]},
 "mark": {"type": "text", "font": "Liberation Serif", "fontSize": 90, "color": "#000000", "align": "left", "baseline": "alphabetic"},
 "encoding": {
  "x": {"field": "x", "type": "quantitative", "scale": {"domain": [-3.14159265, 3.14159265], "nice": false, "zero": false}, "axis": null},
  "y": {"field": "y", "type": "quantitative", "scale": {"type": "log", "domain": [1.2e-10, 510000], "nice": false}, "axis": null},
  "text": {"field": "t"}
 }}
]
}
